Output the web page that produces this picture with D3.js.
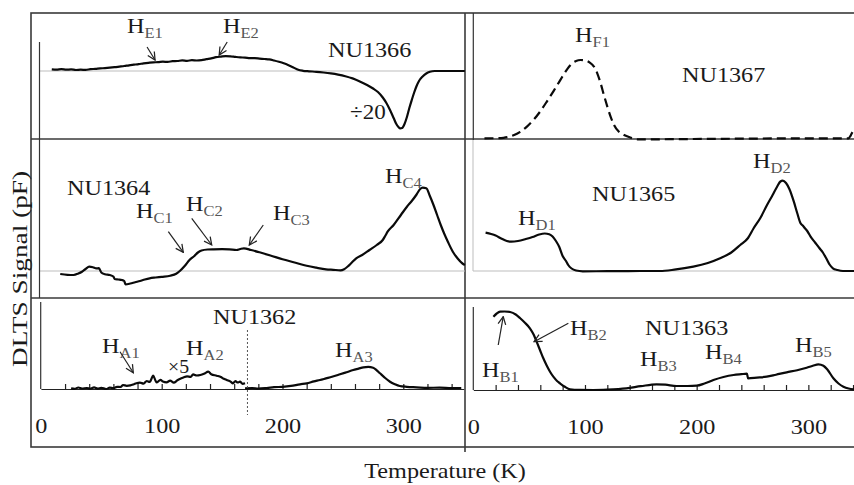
<!DOCTYPE html>
<html lang="en">
<head>
<meta charset="UTF-8">
<title>DLTS spectra</title>
<style>
  * { margin: 0; padding: 0; }
  body { background: #fff; width: 854px; height: 485px; overflow: hidden; }
  svg text { font-family: "Liberation Serif", "Times New Roman", serif; fill: #1a1a1a; }
  .frame { stroke: #3a3a3a; stroke-width: 1.6; fill: none; }
  .yaxis { stroke: #333; stroke-width: 1.2; }
  .base { stroke: #bdbdbd; stroke-width: 1; }
  .curve { fill: none; stroke: #0a0a0a; stroke-width: 2.2; stroke-linejoin: round; }
  .dashed { stroke-dasharray: 9 5; }
  .arrow { stroke: #222; stroke-width: 1.2; fill: none; }
  .sub { fill: #555; }
  .xaxis path, .xaxis line { stroke: #222; stroke-width: 1.2; }
</style>
</head>
<body>
<div id="chart"></div>
<script src="https://d3js.org/d3.v7.min.js"></script>
<script>
// temperature (K), signal (a.u. relative to baseline)
const nu1366 = [[9,1.7],[13,1.4],[17,1.9],[21,1.3],[25,1.6],[29,1.0],[33,1.3],[37,1.1],[41,1.8],[45,2.1],[49,2.6],[53,2.9],[57,3.3],[61,3.8],[65,4.4],[69,5.0],[73,5.7],[77,6.3],[81,6.9],[85,7.6],[89,8.2],[93,8.7],[97,8.8],[101,9.3],[105,9.1],[109,9.8],[113,10.0],[117,10.6],[121,10.2],[125,10.8],[129,10.5],[133,10.9],[137,11.8],[141,12.6],[145,13.8],[149,14.4],[153,14.9],[157,14.7],[161,14.1],[165,13.6],[169,13.4],[173,12.9],[177,12.8],[181,12.4],[185,12.0],[189,11.6],[193,10.5],[197,9.2],[201,7.7],[205,5.8],[209,3.6],[213,1.2],[217,0.2],[222,-0.3],[228,-0.8],[234,-1.5],[240,-2.4],[246,-3.6],[252,-5.2],[258,-7.4],[264,-10.5],[270,-14.0],[275,-17.5],[279,-21],[283,-26.5],[286,-32],[289,-39],[292,-47],[294,-52.5],[296,-56],[297.5,-57.3],[299,-57],[301,-53],[303,-46],[305,-37],[307,-29],[309,-21.5],[311,-15],[313,-10],[316,-5.5],[319,-2.5],[322,-0.8],[326,0],[351,0]];

const nu1367 = [[10,0],[20,0.1],[27,0.5],[32,1.5],[36,3],[42,6.5],[48,11.7],[54,18.5],[60,27],[66,37],[72,47.5],[78,58.5],[84,69],[88,74.5],[92,77.3],[96,78.3],[100,78],[104,76],[108,71.7],[111,65],[114,55],[117,43],[120,31.7],[123,21.5],[126,13.3],[130,7],[135,3.3],[140,1],[147,-1],[160,-1],[197,-0.7],[250,-0.3],[287,0],[336,0],[338,3],[340,7],[342,8]];

const nu1364 = [[16,-3],[22,-3.8],[27,-4],[31,-2.5],[34,-0.7],[37,2],[40,4.3],[43,3.8],[46,2.6],[48,2.8],[50,-1.5],[53,-3.2],[57,-4],[60,-5.5],[61,-8],[64,-8.5],[67,-9],[69,-10],[70,-13.3],[74,-12.5],[78,-11.2],[82,-10],[86,-8.5],[90,-7.3],[95,-6.5],[100,-5.8],[107,-4.7],[112,-2.8],[115,0],[119,5],[123,11],[127,15],[130,18.5],[133,20.5],[138,21.5],[143,21.7],[150,21.8],[156,21.6],[162,21],[165,22],[168,22.7],[174,21],[181,18.7],[190,15.5],[200,11.7],[210,8.5],[220,5.2],[228,3.3],[236,1.7],[242,1.2],[248,0.7],[251,1.8],[254,4.5],[257,8],[261,12.7],[266,16],[272,21],[278,26],[283,31],[285,35],[287,39.3],[292,46],[298,56],[303,64.3],[307,70],[311,76.5],[314,82],[316,83.3],[319,82.7],[322,75],[325,66],[328,56],[331,46],[334,37],[337,29],[341,19.3],[345,12.5],[349,7.5],[351,6]];

const nu1365 = [[11,38.3],[16,37],[20,35.5],[25,32.5],[30,30],[34,29.3],[40,30],[47,32],[53,34],[59,36.5],[64,37.5],[68,36.8],[71,34.5],[74,30],[77,24],[80,15],[83,10],[85,6],[88,2.5],[92,0.5],[98,-0.3],[120,-0.2],[150,0],[167,0],[180,1.3],[197,4.3],[210,8],[221,12.7],[231,18.5],[239,26],[246,33],[251,42.7],[257,53],[263,66],[268,76],[272,84.3],[275,89.5],[277,90.3],[280,88],[283,82],[287,69.3],[290,58],[293,47.7],[295,45.5],[297,42.7],[299,40],[302,34.3],[306,28.5],[310,22.7],[313,18.5],[316,12.7],[319,6.5],[322,2.7],[326,1],[331,0],[342,0]];

// NU1362 low-T part (x5) and high-T part
const nu1362a = [[25,0.7],[28,0.2],[31,1.5],[34,0.5],[38,1],[41,0.3],[44,1.6],[47,0.4],[50,1.2],[54,0],[57,1.3],[60,0.8],[63,2.2],[66,2.0],[68,4],[71,3.2],[74,3.6],[77,4.8],[79,5.7],[82,6.3],[85,5.4],[87.6,8],[90,7.0],[93,13.3],[95,8],[96,6.7],[99,9.2],[101,7.5],[104,6.7],[107,8.3],[110,6.4],[113,8.7],[115,10],[118,11.5],[121,12.7],[124,12.2],[126,14.7],[129,13.5],[132,14],[135,15.2],[138.6,17.3],[141,14.8],[145.5,13.3],[149,12],[151,10.5],[153.8,9],[157,7.4],[159,5.7],[161,7.9],[163,6.5],[164.8,7.3],[167,5.2],[169,5.7]];
const nu1362b = [[169,0.7],[175,0.9],[180,0.4],[187,1],[193,1.8],[200,2.2],[207,3.1],[214.5,4.7],[220,5.6],[226,7.6],[231,9],[236,10.6],[241,12.2],[247.6,14.7],[253,16.8],[258.6,19],[263,20.4],[267,21.7],[271,22.1],[275,21.3],[278,18.7],[280.7,15.7],[285,11],[289,7.3],[293,4.8],[297,3],[303,2.2],[311,1.7],[320,1.1],[330,1.4],[340,0.9],[348,1]];

const nu1363 = [[18,73.3],[21,76.5],[24,78.3],[28,78.5],[33,78],[38,75.5],[42,71.7],[46,67.5],[50.7,61.7],[54,55.5],[56.7,48.3],[59.7,40],[62.7,31.7],[65.7,24.5],[68.7,18.3],[72,12.8],[75,9],[77.6,6.7],[82,3.2],[86.6,0.7],[95,0.1],[107.5,0],[120,0.4],[137,1.7],[150,3.8],[164,5.7],[172,5.3],[182,4],[192,4.0],[200,4.3],[207,6.5],[215,10],[224,13],[233,15],[240,15.8],[245,16.3],[246,11.7],[254,12.4],[262.7,13.3],[271,15.3],[280.6,17.7],[290,19.8],[298.5,22.3],[304,24.2],[309,25.7],[313.5,24.3],[317,20.5],[322.4,11.7],[327,6.5],[331.4,3.3],[336,1.5],[341,0.7]];

const xTicks = d3.range(0, 341, 20);
const xLabels = [0, 100, 200, 300];

const W = 854, H = 485;
const svg = d3.select("#chart").append("svg")
    .attr("width", W).attr("height", H);

const tLeft = d3.scaleLinear().domain([0, 350]).range([40.9, 463.7]);
const tRight = d3.scaleLinear().domain([0, 350]).range([473.3, 864.2]);
const sig = base => d3.scaleLinear().domain([0, 100]).range([base, base - 100]);

const panels = {
    p1366: { x: tLeft,  y: sig(71) },
    p1367: { x: tRight, y: sig(138.3) },
    p1364: { x: tLeft,  y: sig(271) },
    p1365: { x: tRight, y: sig(271) },
    p1362: { x: tLeft,  y: sig(389) },
    p1363: { x: tRight, y: sig(390) }
};

// arrow head
svg.append("defs").append("marker")
    .attr("id", "head").attr("viewBox", "0 0 10 10")
    .attr("refX", 9).attr("refY", 5)
    .attr("markerWidth", 8).attr("markerHeight", 8)
    .attr("orient", "auto")
    .append("path").attr("d", "M1,1 L9,5 L1,9")
    .attr("fill", "none").attr("stroke", "#222").attr("stroke-width", 1.3);

// outer frame + dividers
svg.append("rect").attr("class", "frame")
    .attr("x", 31).attr("y", 13).attr("width", 830).attr("height", 434);
svg.append("line").attr("class", "frame").attr("x1", 465).attr("x2", 465).attr("y1", 13).attr("y2", 452);
svg.append("line").attr("class", "frame").attr("x1", 31).attr("x2", 854).attr("y1", 139).attr("y2", 139);
svg.append("line").attr("class", "frame").attr("x1", 31).attr("x2", 854).attr("y1", 298).attr("y2", 298);

// gray baselines and the plot-area box of NU1365
const baselines = [[39, 465, 71], [39, 465, 271], [473, 854, 271]];
baselines.forEach(b => {
    svg.append("line").attr("class", "base")
        .attr("x1", b[0]).attr("x2", b[1]).attr("y1", b[2]).attr("y2", b[2]);
});
svg.append("line").attr("class", "base").attr("x1", 473).attr("x2", 473).attr("y1", 140).attr("y2", 271);

// y axis lines
const yLines = [[39.5, 42, 139], [39.5, 139, 298], [40.7, 302, 389], [473.3, 13, 140], [473.3, 307, 390]];
yLines.forEach(l => {
    svg.append("line").attr("class", "yaxis")
        .attr("x1", l[0]).attr("x2", l[0]).attr("y1", l[1]).attr("y2", l[2]);
});

// bottom x axes
function xAxis(p, y) {
    const g = svg.append("g").attr("class", "xaxis")
        .attr("transform", `translate(0,${y})`)
        .call(d3.axisBottom(p.x).tickValues(xTicks)
            .tickSizeInner(-5).tickSizeOuter(0).tickPadding(28)
            .tickFormat(d => xLabels.includes(d) ? d : ""));
    g.selectAll("text")
        .style("font-family", '"Liberation Serif", "Times New Roman", serif')
        .style("font-size", "22px").attr("fill", "#1a1a1a")
        .attr("transform", "scale(1.1,1)");
    g.select(".tick line").remove();
}
xAxis(panels.p1362, 389);
xAxis(panels.p1363, 390);

// curves
function curve(p, data, cls) {
    const line = d3.line().x(d => p.x(d[0])).y(d => p.y(d[1])).curve(d3.curveMonotoneX);
    svg.append("path").datum(data).attr("class", "curve " + (cls || "")).attr("d", line);
}
curve(panels.p1366, nu1366);
curve(panels.p1367, nu1367, "dashed");
curve(panels.p1364, nu1364);
curve(panels.p1365, nu1365);
curve(panels.p1362, nu1362a);
curve(panels.p1362, nu1362b);
curve(panels.p1363, nu1363);

// dotted separator in NU1362
svg.append("line")
    .attr("x1", tLeft(171)).attr("x2", tLeft(171)).attr("y1", 330).attr("y2", 415)
    .attr("stroke", "#555").attr("stroke-width", 1).attr("stroke-dasharray", "2 2");

// text helpers
function txt(x, y, s, size, anchor) {
    return svg.append("text")
        .attr("transform", `translate(${x},${y}) scale(1.1,1)`)
        .attr("text-anchor", anchor || "start")
        .style("font-size", size + "px")
        .text(s);
}
function peak(x, y, sub) {
    const t = svg.append("text")
        .attr("transform", `translate(${x},${y}) scale(1.1,1)`)
        .style("font-size", "22px");
    t.append("tspan").text("H");
    t.append("tspan").attr("class", "sub").attr("dy", 5).style("font-size", "15px").text(sub);
}

// sample names
txt(328, 57, "NU1366", 22);
txt(682, 82, "NU1367", 22);
txt(67, 195, "NU1364", 22);
txt(592, 201, "NU1365", 22);
txt(213, 324, "NU1362", 22);
txt(645, 335, "NU1363", 22);
txt(350, 119, "÷20", 21);
txt(168, 373, "×5", 18);

// peak labels
const peakLabels = [
    [127, 33, "E1"], [223, 33, "E2"], [575, 42, "F1"],
    [136, 218, "C1"], [186, 211, "C2"], [273, 220, "C3"], [385, 183, "C4"],
    [518, 225, "D1"], [753, 168, "D2"],
    [102, 353, "A1"], [186, 355, "A2"], [335, 357, "A3"],
    [482, 377, "B1"], [570, 335, "B2"], [640, 366, "B3"], [705, 359, "B4"], [795, 352, "B5"]
];
peakLabels.forEach(d => peak(d[0], d[1], d[2]));

// arrows: tip on the curve (T, signal), tail offset in px
const arrows = [
    [panels.p1366, 94.5, 11, -8, -13],
    [panels.p1366, 147.6, 16, 8, -13],
    [panels.p1364, 117.9, 18.7, -15, -20.6],
    [panels.p1364, 141.4, 26, -20, -26.7],
    [panels.p1364, 172.5, 26, 14, -20],
    [panels.p1362, 76.5, 16.3, -13.3, -21],
    [panels.p1363, 26.8, 73.3, -5, 28.3],
    [panels.p1363, 54.4, 48.3, 34.3, -18.4]
];
arrows.forEach(a => {
    const x2 = a[0].x(a[1]), y2 = a[0].y(a[2]);
    svg.append("line").attr("class", "arrow")
        .attr("x1", x2 + a[3]).attr("y1", y2 + a[4])
        .attr("x2", x2).attr("y2", y2)
        .attr("marker-end", "url(#head)");
});

// axis titles
txt(445, 478, "Temperature (K)", 22, "middle");
svg.append("text")
    .attr("transform", "translate(26.5,269) rotate(-90) scale(1.3,1)")
    .attr("text-anchor", "middle")
    .style("font-size", "21px")
    .text("DLTS Signal (pF)");
</script>
</body>
</html>
